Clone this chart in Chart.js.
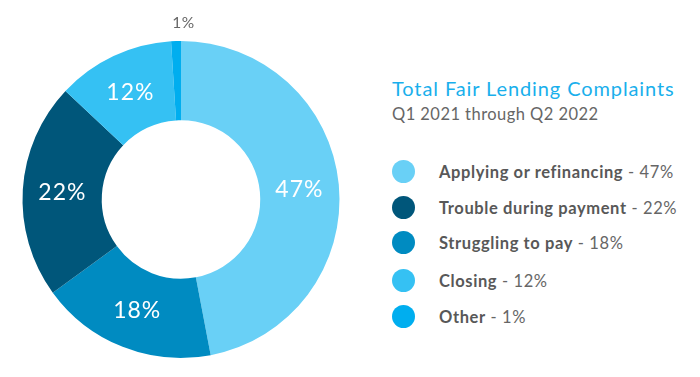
<!DOCTYPE html>
<html>
<head>
<meta charset="utf-8">
<script src="https://cdn.jsdelivr.net/npm/chart.js@4.4.0/dist/chart.umd.min.js"></script>
<style>
  html, body { margin: 0; padding: 0; background: #fff; }
  body { width: 700px; height: 377px; position: relative; overflow: hidden; font-family: Lato, "Open Sans", sans-serif; }
  #wrap { position: absolute; left: 0; top: 0; width: 362px; height: 377px; }
  #title { position: absolute; left: 392px; top: 76px; font-size: 20px; letter-spacing: 0.9px; color: #19AFEC; white-space: nowrap; }
  #subtitle { position: absolute; left: 392px; top: 104px; font-size: 16.5px; letter-spacing: 0.45px; color: #666; white-space: nowrap; }
  .item { position: absolute; left: 392px; height: 24px; white-space: nowrap; font-size: 16.5px; letter-spacing: 0.6px; color: #666; }
  .dot { position: absolute; left: 0; top: 0; width: 23px; height: 23px; border-radius: 50%; }
  .txt { position: absolute; left: 47px; top: 1px; line-height: 22px; }
  .txt b { color: #585858; }
</style>
</head>
<body>
<div id="wrap"><canvas id="donut"></canvas></div>
<div id="title">Total Fair Lending Complaints</div>
<div id="subtitle">Q1 2021 through Q2 2022</div>
<div id="legend"></div>
<script>
const categorias = ['Applying or refinancing', 'Struggling to pay', 'Trouble during payment', 'Closing', 'Other'];
const valores = [47, 18, 22, 12, 1];
const cores = ['#69D0F6', '#008BC1', '#00567A', '#35C1F3', '#00AEEF'];

// ordem da legenda (como na imagem)
const ordemLegenda = [0, 2, 1, 3, 4];
const topoLegenda = [160, 196, 231, 269, 305];

const legenda = document.getElementById('legend');
ordemLegenda.forEach((i, n) => {
    const div = document.createElement('div');
    div.className = 'item';
    div.style.top = topoLegenda[n] + 'px';
    div.innerHTML = '<span class="dot" style="background:' + cores[i] + '"></span>' +
        '<span class="txt"><b>' + categorias[i] + '</b> - ' + valores[i] + '%</span>';
    legenda.appendChild(div);
});

// rotulos dentro das fatias
const rotulos = {
    id: 'rotulos',
    afterDatasetsDraw(chart) {
        const c = chart.ctx;
        const meta = chart.getDatasetMeta(0);
        c.save();
        c.textAlign = 'center';
        c.textBaseline = 'middle';
        meta.data.forEach((arc, i) => {
            const v = valores[i];
            if (v >= 5) {
                const p = arc.getCenterPoint();
                c.font = '23px Lato, "Open Sans", sans-serif';
                c.letterSpacing = '1px';
                c.fillStyle = '#ffffff';
                c.fillText(v + '%', p.x, p.y + 1);
            } else {
                const ang = (arc.startAngle + arc.endAngle) / 2;
                const r = arc.outerRadius + 20;
                c.font = '15.5px Lato, "Open Sans", sans-serif';
                c.letterSpacing = '0.5px';
                c.fillStyle = '#666666';
                c.fillText(v + '%', arc.x + Math.cos(ang) * r + 8, arc.y + Math.sin(ang) * r + 2);
            }
        });
        c.restore();
    }
};

const ctx = document.getElementById('donut');
const grafico = new Chart(ctx, {
    type: 'doughnut',
    data: {
        labels: categorias,
        datasets: [{
            data: valores,
            backgroundColor: cores,
            borderWidth: 0
        }]
    },
    options: {
        responsive: true,
        maintainAspectRatio: false,
        animation: false,
        cutout: '50%',
        layout: {
            padding: { top: 41, bottom: 19, left: 22, right: 22 }
        },
        plugins: {
            legend: { display: false },
            tooltip: { enabled: false }
        }
    },
    plugins: [rotulos]
});
</script>
</body>
</html>
